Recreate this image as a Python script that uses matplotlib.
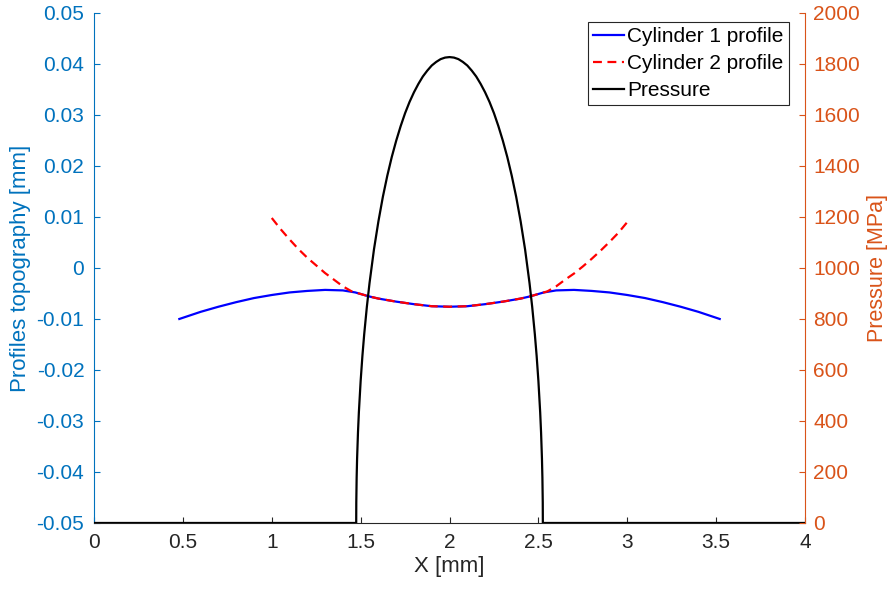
import matplotlib
matplotlib.use("Agg")
import matplotlib.pyplot as plt

plt.rcParams['font.family'] = ['Liberation Sans', 'DejaVu Sans']

# Cylinder 1 profile (deformed), mm
x_cyl1 = [0.48, 0.6, 0.7, 0.8, 0.9, 1.0, 1.1, 1.2, 1.3, 1.4, 1.47, 1.5, 1.55, 1.6, 1.7, 1.8, 1.9, 2.0,
          2.1, 2.2, 2.3, 2.4, 2.45, 2.5, 2.53, 2.6, 2.7, 2.8, 2.9, 3.0, 3.1, 3.2, 3.3, 3.4, 3.52]
y_cyl1 = [-0.0100, -0.0086, -0.0076, -0.0067, -0.0059, -0.0053, -0.0048, -0.0045, -0.0043, -0.0044,
          -0.0048, -0.0051, -0.0056, -0.0060, -0.0066, -0.0071, -0.0075, -0.0076,
          -0.0075, -0.0071, -0.0066, -0.0060, -0.0056, -0.0051, -0.0048, -0.0044, -0.0043, -0.0045,
          -0.0048, -0.0053, -0.0059, -0.0067, -0.0076, -0.0086, -0.0100]

# Cylinder 2 profile (deformed), mm
x_cyl2 = [1.0, 1.05, 1.1, 1.15, 1.2, 1.25, 1.3, 1.35, 1.4, 1.45, 1.5, 1.55, 1.6, 1.7, 1.8, 1.9, 2.0,
          2.1, 2.2, 2.3, 2.4, 2.45, 2.5, 2.55, 2.6, 2.65, 2.7, 2.75, 2.8, 2.85, 2.9, 2.95, 3.0]
y_cyl2 = [0.0098, 0.0076, 0.0056, 0.0037, 0.0020, 0.0005, -0.0010, -0.0023, -0.0036, -0.0046, -0.0051,
          -0.0056, -0.0060, -0.0066, -0.0071, -0.0075, -0.0076,
          -0.0075, -0.0071, -0.0066, -0.0060, -0.0056, -0.0051, -0.0046, -0.0036, -0.0023, -0.0011,
          0.0003, 0.0018, 0.0034, 0.0051, 0.0069, 0.0090]

# Contact pressure, MPa
x_pres = [0.0, 1.475, 1.4755, 1.4775, 1.48, 1.485, 1.49, 1.50, 1.51, 1.52, 1.535, 1.55, 1.575,
          1.60, 1.625, 1.65, 1.675, 1.70, 1.725, 1.75, 1.775, 1.80, 1.825, 1.85, 1.875, 1.90,
          1.925, 1.95, 1.975, 2.00, 2.025, 2.05, 2.075, 2.10, 2.125, 2.15, 2.175, 2.20, 2.225,
          2.25, 2.275, 2.30, 2.325, 2.35, 2.375, 2.40, 2.425, 2.45, 2.465, 2.48, 2.49, 2.50,
          2.51, 2.515, 2.52, 2.5225, 2.5245, 2.525, 4.0]
p_pres = [0, 0, 80, 178, 252, 355, 434, 557, 656, 740, 848, 941, 1073,
          1183, 1279, 1362, 1435, 1499, 1556, 1607, 1651, 1689, 1722, 1751, 1774, 1794,
          1808, 1819, 1825, 1827, 1825, 1819, 1808, 1794, 1774, 1751, 1722, 1689, 1651,
          1607, 1556, 1499, 1435, 1362, 1279, 1183, 1073, 941, 848, 740, 656, 557,
          434, 355, 252, 178, 80, 0, 0]

c_left = '#0072BD'
c_right = '#D95319'
c_axis = '#262626'

fig = plt.figure(figsize=(8.92, 5.92), dpi=100)
ax = fig.add_axes([0.1054, 0.1166, 0.7971, 0.8615])
ax2 = ax.twinx()

l1, = ax.plot(x_cyl1, y_cyl1, color='blue', lw=1.6, label='Cylinder 1 profile')
l2, = ax.plot(x_cyl2, y_cyl2, color='red', lw=1.6, ls=(0, (4, 2.5)), label='Cylinder 2 profile')
l3, = ax2.plot(x_pres, p_pres, color='black', lw=1.6, label='Pressure')

ax.set_xlim(0, 4)
ax.set_ylim(-0.05, 0.05)
ax2.set_ylim(0, 2000)
ax.set_xticks([0, 0.5, 1, 1.5, 2, 2.5, 3, 3.5, 4])
ax.set_xticklabels(['0', '0.5', '1', '1.5', '2', '2.5', '3', '3.5', '4'])
ax.set_yticks([-0.05, -0.04, -0.03, -0.02, -0.01, 0, 0.01, 0.02, 0.03, 0.04, 0.05])
ax.set_yticklabels(['-0.05', '-0.04', '-0.03', '-0.02', '-0.01', '0', '0.01', '0.02', '0.03', '0.04', '0.05'])
ax2.set_yticks(range(0, 2001, 200))

for a in (ax, ax2):
    a.spines['top'].set_visible(False)
ax.spines['left'].set_color(c_left)
ax.spines['right'].set_visible(False)
ax.spines['bottom'].set_color(c_axis)
ax2.spines['right'].set_color(c_right)
ax2.spines['left'].set_visible(False)
ax2.spines['bottom'].set_visible(False)

ax.tick_params(axis='x', direction='in', length=4, colors=c_axis, labelsize=15, pad=7)
ax.tick_params(axis='y', direction='in', length=4, colors=c_left, labelsize=15, pad=7)
ax2.tick_params(axis='y', direction='in', length=4, colors=c_right, labelsize=15, pad=6)

ax.set_xlabel('X [mm]', fontsize=16, color=c_axis, labelpad=3)
ax.set_ylabel('Profiles topography [mm]', fontsize=16, color=c_left, labelpad=4)
ax2.set_ylabel('Pressure [MPa]', fontsize=15.5, color=c_right, labelpad=5)

leg = ax2.legend(handles=[l1, l2, l3], loc='upper right', bbox_to_anchor=(0.983, 0.99),
                 fontsize=15, frameon=True, fancybox=False, framealpha=1,
                 edgecolor=c_axis, borderpad=0.25, labelspacing=0.37, handlelength=1.5,
                 handletextpad=0.15, borderaxespad=0.2)
leg.get_frame().set_linewidth(0.8)

fig.savefig('out.png', dpi=100)
